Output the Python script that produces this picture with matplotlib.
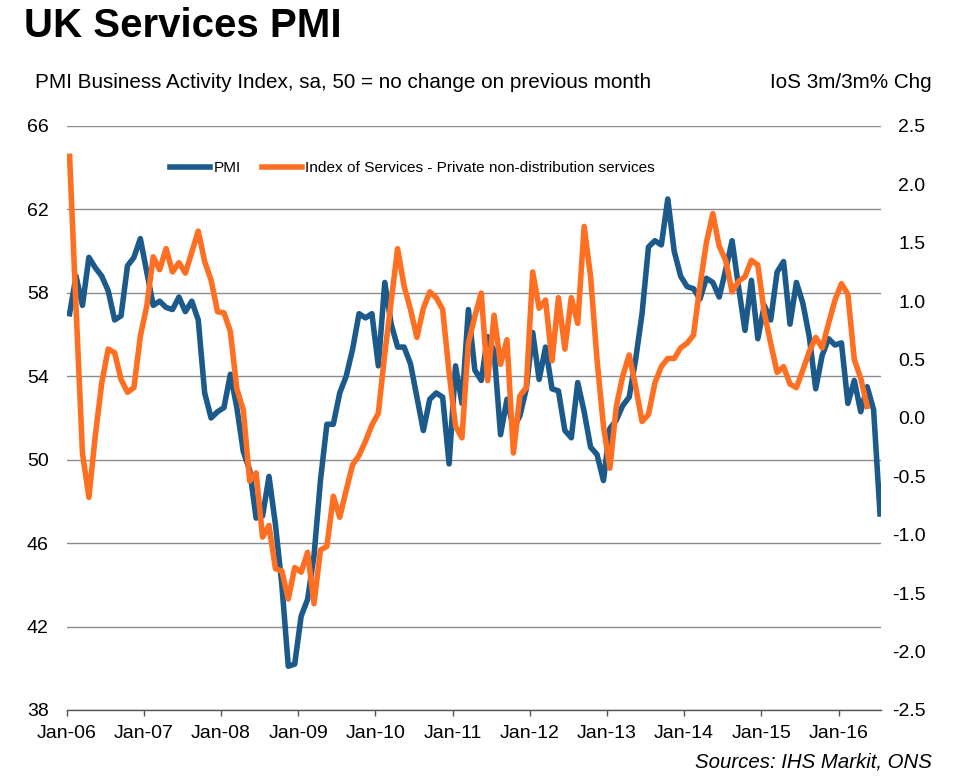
import numpy as np
import matplotlib
matplotlib.use("Agg")
import matplotlib.pyplot as plt

plt.rcParams['font.family'] = ['Liberation Sans', 'DejaVu Sans']

# monthly readings, Jan-06 onwards
pmi = [57.0, 58.8, 57.4, 59.7, 59.2, 58.8, 58.1, 56.7, 56.9, 59.3, 59.7, 60.6,
       59.0, 57.4, 57.6, 57.3, 57.2, 57.8, 57.1, 57.6, 56.7, 53.2, 52.0, 52.3,
       52.5, 54.1, 52.5, 50.4, 49.5, 47.2, 47.3, 49.2, 46.9, 44.0, 40.1, 40.2,
       42.5, 43.3, 45.4, 49.0, 51.7, 51.7, 53.2, 54.0, 55.3, 57.0, 56.8, 57.0,
       54.5, 58.5, 56.5, 55.4, 55.4, 54.6, 53.0, 51.4, 52.9, 53.2, 53.0, 49.8,
       54.5, 52.7, 57.2, 54.3, 53.8, 55.9, 55.2, 51.2, 52.9, 51.5, 52.1, 53.4,
       56.1, 53.85, 55.4, 53.4, 53.3, 51.4, 51.05, 53.7, 52.3, 50.6, 50.25, 49.0,
       51.5, 51.9, 52.6, 53.0, 54.8, 57.0, 60.2, 60.5, 60.3, 62.5, 60.0, 58.8,
       58.3, 58.2, 57.7, 58.7, 58.5, 57.8, 59.1, 60.5, 58.3, 56.2, 58.6, 55.8,
       57.4, 56.7, 59.0, 59.5, 56.5, 58.5, 57.5, 55.9, 53.4, 55.0, 55.8, 55.5,
       55.6, 52.7, 53.8, 52.3, 53.5, 52.4, 47.4]

ios = [2.24, 0.95, -0.30, -0.68, -0.15, 0.30, 0.59, 0.56, 0.33, 0.22, 0.26, 0.70,
       0.96, 1.38, 1.27, 1.45, 1.25, 1.33, 1.24, 1.42, 1.60, 1.34, 1.18, 0.91,
       0.90, 0.74, 0.25, 0.07, -0.54, -0.47, -1.02, -0.92, -1.29, -1.31, -1.55, -1.28,
       -1.32, -1.15, -1.59, -1.13, -1.10, -0.67, -0.85, -0.62, -0.40, -0.32, -0.20, -0.06,
       0.04, 0.55, 1.00, 1.45, 1.13, 0.93, 0.69, 0.94, 1.08, 1.03, 0.93, 0.39,
       -0.07, -0.17, 0.64, 0.87, 1.07, 0.32, 0.88, 0.46, 0.67, -0.30, 0.19, 0.26,
       1.25, 0.94, 1.01, 0.49, 1.03, 0.59, 1.03, 0.81, 1.64, 1.21, 0.50, -0.07,
       -0.43, 0.10, 0.36, 0.54, 0.27, -0.03, 0.03, 0.30, 0.44, 0.51, 0.51, 0.60,
       0.64, 0.71, 1.13, 1.50, 1.75, 1.47, 1.35, 1.08, 1.17, 1.21, 1.35, 1.31,
       0.90, 0.64, 0.39, 0.44, 0.29, 0.26, 0.41, 0.57, 0.69, 0.60, 0.81, 1.01,
       1.15, 1.06, 0.50, 0.34, 0.10]

year_labels = ['Jan-06', 'Jan-07', 'Jan-08', 'Jan-09', 'Jan-10', 'Jan-11',
               'Jan-12', 'Jan-13', 'Jan-14', 'Jan-15', 'Jan-16']
left_ticks = [38, 42, 46, 50, 54, 58, 62, 66]
right_ticks = [-2.5, -2.0, -1.5, -1.0, -0.5, 0.0, 0.5, 1.0, 1.5, 2.0, 2.5]

blue = '#1B5A8A'
orange = '#FF6F22'

W, H = 959, 777
fig = plt.figure(figsize=(W / 100, H / 100), dpi=100)
ax_l, ax_r, ax_t, ax_b = 66.7, 881, 126, 710
ax = fig.add_axes([ax_l / W, 1 - ax_b / H, (ax_r - ax_l) / W, (ax_b - ax_t) / H])
ax2 = ax.twinx()

# points sit mid-month
x_pmi = np.arange(len(pmi)) + 0.45
x_ios = np.arange(len(ios)) + 0.45

l1, = ax.plot(x_pmi, pmi, color=blue, lw=4.0, label='PMI', solid_joinstyle='round')
l2, = ax2.plot(x_ios, ios, color=orange, lw=4.0,
               label='Index of Services - Private non-distribution services',
               solid_joinstyle='round')

ax.set_xlim(0, 126.6)
ax.set_ylim(38, 66)
ax2.set_ylim(-2.5, 2.5)

ax.set_yticks(left_ticks)
ax.set_yticklabels([str(v) for v in left_ticks])
ax2.set_yticks(right_ticks)
ax2.set_yticklabels([f'{v:.1f}' for v in right_ticks])
for lab in ax2.get_yticklabels():
    lab.set_horizontalalignment('right')

ax.set_xticks(np.arange(len(year_labels)) * 12)
ax.set_xticklabels(year_labels)

ax.tick_params(axis='y', length=0, pad=13, labelsize=14)
ax2.tick_params(axis='y', length=0, pad=32, labelsize=14)
ax.tick_params(axis='x', length=4, width=1, color='#555555', pad=7, labelsize=14)

ax.grid(axis='y', color='#8c8c8c', lw=1.0)
ax.set_axisbelow(True)
for a in (ax, ax2):
    for s in ('top', 'left', 'right'):
        a.spines[s].set_visible(False)
ax.spines['bottom'].set_color('#555555')
ax.spines['bottom'].set_linewidth(1.0)
ax2.spines['bottom'].set_visible(False)

ax2.legend(handles=[l1, l2], loc='center', bbox_to_anchor=(0.425, 0.928), ncol=2,
           frameon=False, fontsize=11.1, handlelength=2.6, handletextpad=0.2,
           columnspacing=1.4)

fig.text(24 / W, 1 - 26 / H, 'UK Services PMI', fontsize=29, fontweight='bold',
         va='center', ha='left')
fig.text(35 / W, 1 - 83 / H, 'PMI Business Activity Index, sa, 50 = no change on previous month',
         fontsize=14.9, va='center', ha='left')
fig.text(932 / W, 1 - 83 / H, 'IoS 3m/3m% Chg', fontsize=14.9, va='center', ha='right')
fig.text(932 / W, 1 - 762 / H, 'Sources: IHS Markit, ONS', fontsize=14.7, style='italic',
         va='center', ha='right')

fig.savefig('out.png', dpi=100)
